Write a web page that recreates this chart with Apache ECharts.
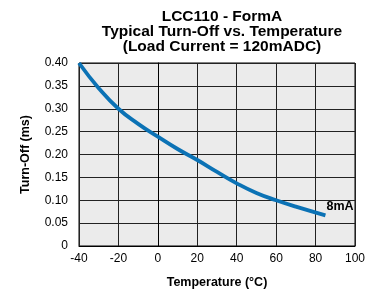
<!DOCTYPE html>
<html>
<head>
<meta charset="utf-8">
<script src="https://cdn.jsdelivr.net/npm/echarts@6/dist/echarts.min.js"></script>
<style>
    html, body { margin: 0; padding: 0; background: #fff; }
    #chart { width: 371px; height: 295px; }
</style>
</head>
<body>
<div id="chart"></div>
<script>
    var titleLines = ['LCC110 - FormA', 'Typical Turn-Off vs. Temperature', '(Load Current = 120mADC)'];
    var temperature = [-40, -30, -20, -10, 0, 10, 20, 30, 40, 50, 60, 70, 85];
    var turnOff8mA = [0.40, 0.345, 0.30, 0.267, 0.239, 0.212, 0.188, 0.162, 0.137, 0.116, 0.100, 0.086, 0.067];
    var seriesLabel = '8mA';

    var chart = echarts.init(document.getElementById('chart'), null, { renderer: 'canvas' });
    var font = 'Liberation Sans, Arial, sans-serif';

    var points = temperature.map(function (t, i) { return [t, turnOff8mA[i]]; });

    chart.setOption({
        animation: false,
        title: {
            text: titleLines.join('\n'),
            left: 217,
            textAlign: 'center',
            top: 4,
            textStyle: { fontFamily: font, fontSize: 15.5, fontWeight: 'bold', color: '#000', lineHeight: 15 }
        },
        grid: { left: 79, right: 16, top: 63, bottom: 49, show: true, backgroundColor: '#ebebeb', borderColor: '#000', borderWidth: 1 },
        xAxis: {
            type: 'value', min: -40, max: 100, interval: 20,
            name: 'Temperature (°C)', nameLocation: 'middle', nameGap: 30,
            nameTextStyle: { fontFamily: font, fontSize: 12.5, fontWeight: 'bold', color: '#000' },
            axisLine: { show: true, lineStyle: { color: '#000' } },
            axisTick: { show: false },
            axisLabel: { fontFamily: font, fontSize: 12, color: '#000', margin: 7 },
            splitLine: { show: true, lineStyle: { color: '#222', width: 1 } }
        },
        yAxis: {
            type: 'value', min: 0, max: 0.40, interval: 0.05,
            name: 'Turn-Off (ms)', nameLocation: 'middle', nameGap: 47, nameRotate: 90,
            nameTextStyle: { fontFamily: font, fontSize: 12.5, fontWeight: 'bold', color: '#000' },
            axisLine: { show: true, lineStyle: { color: '#000' } },
            axisTick: { show: false },
            axisLabel: {
                fontFamily: font, fontSize: 12, color: '#000', margin: 11,
                formatter: function (v) { return v === 0 ? '0' : v.toFixed(2); }
            },
            splitLine: { show: true, lineStyle: { color: '#222', width: 1 } }
        },
        series: [{
            type: 'line',
            data: points,
            smooth: true,
            showSymbol: false,
            lineStyle: { color: '#0b72b5', width: 3.8 },
            endLabel: {
                show: true,
                formatter: seriesLabel,
                fontFamily: font, fontSize: 12.5, fontWeight: 'bold', color: '#000',
                offset: [-7, -8.5]
            }
        }]
    });
</script>
</body>
</html>
